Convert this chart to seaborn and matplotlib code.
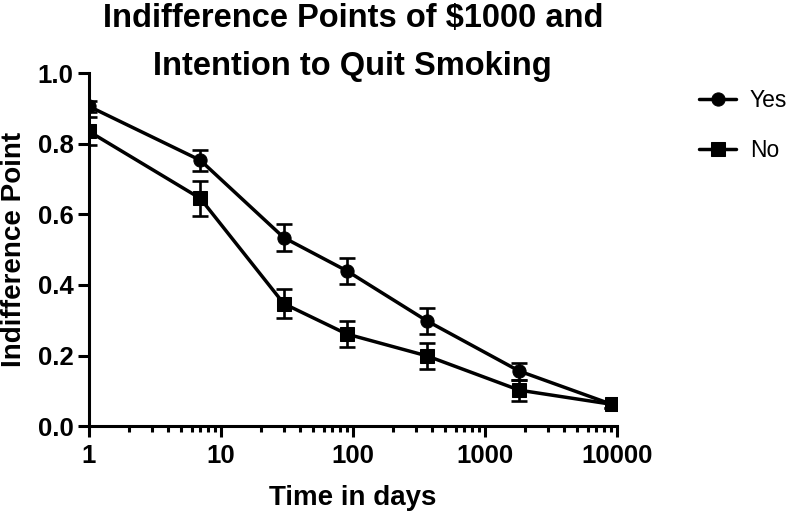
import numpy as np
import pandas as pd
import matplotlib
matplotlib.use('Agg')
import matplotlib.pyplot as plt
import seaborn as sns
from matplotlib.ticker import LogLocator, FixedLocator, NullFormatter

# Values
days = [1, 7, 30, 90, 365, 1825, 9125]
yes_vals = [0.906, 0.753, 0.534, 0.440, 0.298, 0.156, 0.062]
yes_err = [0.015, 0.030, 0.038, 0.037, 0.036, 0.024, 0.010]
no_vals = [0.835, 0.645, 0.347, 0.261, 0.199, 0.102, 0.062]
no_err = [0.040, 0.050, 0.041, 0.036, 0.036, 0.030, 0.010]
groups = ['Yes', 'No']
x_ticks = [1, 10, 100, 1000, 10000]
x_tick_labels = ['1', '10', '100', '1000', '10000']
y_ticks = [0.0, 0.2, 0.4, 0.6, 0.8, 1.0]

sns.set_style('ticks')
plt.rcParams['font.family'] = ['Liberation Sans', 'DejaVu Sans']
for key in ['text.color', 'axes.labelcolor', 'xtick.color', 'ytick.color', 'axes.edgecolor']:
    plt.rcParams[key] = 'black'

df = pd.DataFrame({
    'Days': days * 2,
    'Value': yes_vals + no_vals,
    'Err': yes_err + no_err,
    'Group': ['Yes'] * len(days) + ['No'] * len(days),
})

fig = plt.figure(figsize=(8, 5.11), dpi=100)
ax = fig.add_axes([0.111, 0.166, 0.66, 0.691])

# error bars first, lines and markers on top
for g in groups:
    sub = df[df['Group'] == g]
    ax.errorbar(sub['Days'], sub['Value'], yerr=sub['Err'], fmt='none',
                ecolor='black', elinewidth=1.9, capsize=6, capthick=1.9, zorder=2)

sns.lineplot(data=df, x='Days', y='Value', hue='Group', style='Group',
             markers={'Yes': 'o', 'No': 's'}, dashes=False,
             palette={'Yes': 'black', 'No': 'black'}, hue_order=groups,
             style_order=groups, linewidth=2.5, markersize=9.5,
             markeredgecolor='black', ax=ax, zorder=3)

ax.set_xscale('log')
ax.set_xlim(1, 10000)
ax.set_ylim(0, 1.0)
ax.xaxis.set_major_locator(FixedLocator(x_ticks))
ax.set_xticklabels(x_tick_labels)
ax.xaxis.set_minor_locator(LogLocator(base=10, subs=np.arange(2, 10)))
ax.xaxis.set_minor_formatter(NullFormatter())
ax.set_yticks(y_ticks)
ax.set_yticklabels([f'{v:.1f}' for v in y_ticks])

for lab in ax.get_xticklabels() + ax.get_yticklabels():
    lab.set_fontweight('bold')
    lab.set_fontsize(18.5)

ax.tick_params(axis='both', which='major', width=2.2, length=8)
ax.tick_params(axis='x', which='major', pad=5)
ax.tick_params(axis='y', which='major', pad=3)
ax.tick_params(axis='x', which='minor', width=2.2, length=4)
ax.tick_params(axis='y', which='minor', left=False)
for side in ['left', 'bottom']:
    ax.spines[side].set_linewidth(2.2)
sns.despine(ax=ax)

ax.set_xlabel('Time in days', fontsize=20, fontweight='bold', labelpad=12)
ax.set_ylabel('Indifference Point', fontsize=20, fontweight='bold', labelpad=8)

fig.text(0.441, 1 - 3 / 511, 'Indifference Points of $1000 and\nIntention to Quit Smoking',
         ha='center', va='top', fontsize=23.5, fontweight='bold', linespacing=1.7)

handles, labels = ax.get_legend_handles_labels()
ax.legend(handles, labels, loc='upper left', bbox_to_anchor=(688 / 800, 1 - 78 / 511),
          bbox_transform=fig.transFigure, frameon=False, borderpad=0,
          fontsize=16.5, handlelength=1.6, labelspacing=1.15, handletextpad=0.6)

fig.savefig('out.png', dpi=100)
